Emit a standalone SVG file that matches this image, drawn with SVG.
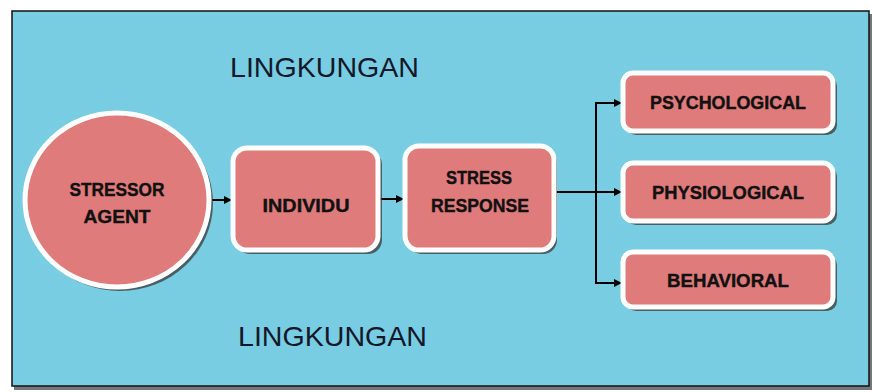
<svg xmlns="http://www.w3.org/2000/svg" width="873" height="392" viewBox="0 0 873 392">
<style>
.node{fill:#E07B7B;stroke:#fff;stroke-width:5}
.shadow{fill:#3a3a3a;opacity:0.75}
.lbl{font-family:"Liberation Sans",Arial,sans-serif;font-weight:bold;font-size:19px;fill:#111;stroke:#111;stroke-width:0.4;text-anchor:middle}
.env{font-family:"Liberation Sans",Arial,sans-serif;font-size:28px;fill:#14182a}
.con{fill:none;stroke:#000;stroke-width:2}
</style>
<defs>
<marker id="ah" markerWidth="8" markerHeight="8" refX="7" refY="4" orient="auto" markerUnits="userSpaceOnUse">
<path d="M0,0 L8,4 L0,8 z" fill="#000"/>
</marker>
</defs>
<rect width="873" height="392" fill="#fff"/>
<rect x="14" y="14" width="858" height="376" fill="#777"/>
<rect x="12" y="11" width="857" height="375" fill="#78CDE3" stroke="#111" stroke-width="1.5"/>
<text class="env" x="230" y="77" textLength="189" lengthAdjust="spacingAndGlyphs">LINGKUNGAN</text>
<text class="env" x="238" y="346" textLength="189" lengthAdjust="spacingAndGlyphs">LINGKUNGAN</text>
<g id="connectors">
<line class="con" x1="212" y1="200" x2="231" y2="200" marker-end="url(#ah)"/>
<line class="con" x1="380" y1="199" x2="403" y2="199" marker-end="url(#ah)"/>
<line class="con" x1="556" y1="192" x2="621" y2="192" marker-end="url(#ah)"/>
<path class="con" d="M621,103 L596,103 L596,283 L621,283"/>
<line class="con" x1="610" y1="103" x2="621" y2="103" marker-end="url(#ah)"/>
<line class="con" x1="610" y1="283" x2="621" y2="283" marker-end="url(#ah)"/>
</g>
<g id="stressor">
<ellipse class="shadow" cx="120" cy="203" rx="93" ry="88"/>
<ellipse class="node" cx="117" cy="200" rx="92" ry="87"/>
<text class="lbl" x="117" y="196" textLength="95" lengthAdjust="spacingAndGlyphs">STRESSOR</text>
<text class="lbl" x="117" y="223" textLength="67" lengthAdjust="spacingAndGlyphs">AGENT</text>
</g>
<g id="individu">
<rect class="shadow" x="236" y="151" width="146" height="103" rx="14"/>
<rect class="node" x="233" y="148" width="145" height="102" rx="14"/>
<text class="lbl" x="306" y="212" textLength="87" lengthAdjust="spacingAndGlyphs">INDIVIDU</text>
</g>
<g id="stress-response">
<rect class="shadow" x="408" y="149" width="149" height="105" rx="14"/>
<rect class="node" x="405" y="146" width="149" height="104" rx="14"/>
<text class="lbl" x="479" y="184" textLength="66" lengthAdjust="spacingAndGlyphs">STRESS</text>
<text class="lbl" x="480" y="212" textLength="98" lengthAdjust="spacingAndGlyphs">RESPONSE</text>
</g>
<g id="psychological">
<rect class="shadow" x="626" y="76" width="211" height="59" rx="10"/>
<rect class="node" x="623" y="73" width="210" height="58" rx="10"/>
<text class="lbl" x="728" y="109" textLength="156" lengthAdjust="spacingAndGlyphs">PSYCHOLOGICAL</text>
</g>
<g id="physiological">
<rect class="shadow" x="626" y="166" width="211" height="59" rx="10"/>
<rect class="node" x="623" y="163" width="210" height="58" rx="10"/>
<text class="lbl" x="728" y="199" textLength="152" lengthAdjust="spacingAndGlyphs">PHYSIOLOGICAL</text>
</g>
<g id="behavioral">
<rect class="shadow" x="626" y="255" width="211" height="56" rx="10"/>
<rect class="node" x="623" y="252" width="210" height="55" rx="10"/>
<text class="lbl" x="728" y="287" textLength="122" lengthAdjust="spacingAndGlyphs">BEHAVIORAL</text>
</g>
</svg>
